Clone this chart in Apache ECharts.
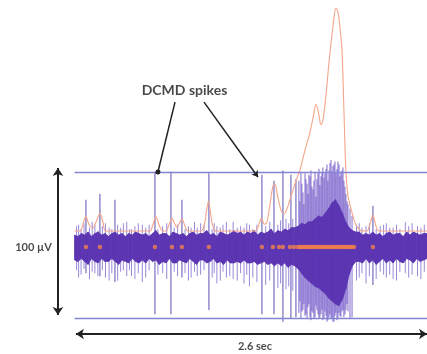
<!DOCTYPE html>
<html>
<head>
<meta charset="utf-8">
<style>
  html, body { margin: 0; padding: 0; background: #fff; }
  #chart { width: 427px; height: 354px; }
</style>
<script src="https://cdn.jsdelivr.net/npm/echarts@6/dist/echarts.min.js"></script>
</head>
<body>
<div id="chart"></div>
<script>
// trace envelope, sampled every 25 ms (µV)
const sampleStep = 0.025;
const bandHi = [
  7, 6, 8, 7, 9, 6, 8, 9, 7, 8,
  6, 8, 9, 7, 8, 6, 8, 7, 9, 8,
  7, 8, 6, 8, 10, 7, 8, 8, 6, 9,
  8, 7, 8, 6, 8, 9, 7, 8, 8, 10,
  7, 8, 6, 9, 8, 7, 8, 10, 8, 9,
  7, 9, 8, 10, 7, 9, 8, 9, 11, 8,
  10, 9, 11, 10, 12,
  12, 13, 15, 14, 16, 16, 18, 20, 19, 22, 25, 29, 31, 27, 22, 16, 12, 10, 9,
  9, 7, 8, 7, 9, 7, 8, 6, 8, 9, 7, 8, 8, 6, 9, 7, 9, 8, 7, 8, 8
];
const bandLo = [
  -10, -11, -9, -11, -13, -9, -11, -12, -9, -11,
  -11, -9, -11, -13, -10, -11, -12, -9, -11, -12,
  -10, -12, -9, -11, -10, -13, -11, -12, -9, -12,
  -12, -10, -11, -12, -9, -11, -13, -10, -10, -12,
  -11, -9, -12, -11, -13, -10, -12, -12, -11, -12,
  -10, -12, -12, -11, -13, -12, -11, -13, -12, -14,
  -12, -14, -12, -15, -13,
  -14, -16, -19, -22, -24, -26, -28, -29, -31, -33, -36, -38, -40, -41, -37, -30, -20, -14, -11,
  -11, -12, -9, -12, -10, -13, -11, -9, -12, -10, -12, -9, -11, -12, -9, -10, -12, -9, -11, -10, -9
];

// visible spike excursions [time s, top µV, bottom µV]
const spikeLines = [
  [0.084, 31, -19], [0.187, 35, -21], [0.298, 31, -25], [0.593, 50, -47],
  [0.711, 50, -47], [0.792, 31, -22], [0.991, 49, -44], [1.382, 48, -47],
  [1.471, 44, -47], [1.537, 51, -52], [1.596, 48, -50], [1.633, 45, -49],
  [2.201, 27, -27]
];
const burstLines = [
  [1.655, 44, -46], [1.662, 30, -38], [1.670, 50, -50], [1.677, 42, -45],
  [1.685, 36, -44], [1.692, 28, -40], [1.700, 49, -48], [1.707, 45, -47],
  [1.715, 42, -50], [1.722, 35, -42], [1.729, 48, -40], [1.737, 47, -49],
  [1.744, 51, -51], [1.751, 40, -45], [1.759, 38, -46], [1.766, 44, -50],
  [1.774, 50, -49], [1.781, 33, -41], [1.788, 45, -44], [1.796, 49, -47],
  [1.803, 52, -50], [1.810, 41, -49], [1.818, 47, -47], [1.825, 50, -44],
  [1.832, 53, -51], [1.840, 46, -50], [1.847, 49, -45], [1.855, 52, -48],
  [1.862, 55, -52], [1.869, 44, -51], [1.877, 51, -49], [1.884, 56, -47],
  [1.892, 58, -50], [1.899, 50, -50], [1.906, 54, -52], [1.914, 55, -52],
  [1.921, 57, -48], [1.928, 49, -46], [1.936, 52, -51], [1.943, 57, -50],
  [1.951, 55, -46], [1.958, 47, -48], [1.965, 50, -49], [1.973, 51, -45],
  [1.980, 53, -44], [1.987, 44, -49], [1.995, 40, -47], [2.002, 35, -44],
  [2.010, 30, -40], [2.017, 28, -45], [2.032, 25, -50], [2.047, 20, -49]
];
const noiseLines = [
  [0.015, 13, -17], [0.030, 14, -22], [0.048, 11, -20], [0.070, 15, -16],
  [0.110, 12, -23], [0.130, 16, -18], [0.150, 14, -19], [0.172, 10, -21],
  [0.205, 13, -17], [0.228, 15, -22], [0.255, 12, -24], [0.275, 11, -19],
  [0.318, 14, -24], [0.340, 12, -18], [0.360, 15, -17], [0.385, 16, -21],
  [0.405, 11, -17], [0.420, 11, -21], [0.445, 13, -23], [0.470, 15, -19],
  [0.500, 14, -25], [0.525, 12, -22], [0.550, 14, -17], [0.615, 11, -20],
  [0.650, 13, -19], [0.680, 15, -23], [0.735, 12, -18], [0.760, 14, -21],
  [0.815, 11, -19], [0.840, 13, -24], [0.860, 12, -22], [0.885, 16, -18],
  [0.905, 12, -21], [0.930, 15, -20], [0.955, 14, -17], [1.015, 11, -22],
  [1.030, 15, -19], [1.050, 13, -26], [1.075, 12, -24], [1.095, 14, -18],
  [1.120, 16, -22], [1.145, 11, -21], [1.170, 16, -23], [1.200, 12, -24],
  [1.225, 13, -19], [1.250, 12, -26], [1.270, 15, -20], [1.290, 14, -28],
  [1.315, 11, -22], [1.345, 14, -25], [1.410, 13, -27], [1.440, 16, -24],
  [1.500, 14, -29], [1.520, 17, -26], [1.560, 18, -30], [1.580, 15, -28],
  [1.610, 18, -31], [2.080, 14, -24], [2.100, 15, -22], [2.120, 12, -19],
  [2.150, 13, -26], [2.175, 15, -21], [2.225, 11, -23], [2.255, 13, -18],
  [2.280, 14, -20], [2.300, 15, -22], [2.325, 12, -20], [2.350, 12, -23],
  [2.375, 14, -24], [2.400, 11, -18], [2.440, 16, -19], [2.465, 13, -22],
  [2.490, 15, -20], [2.530, 13, -21], [2.555, 12, -23], [2.580, 14, -18]
];

// detected spike times (s)
const spikeTimes = [
  0.084, 0.187, 0.593, 0.718, 0.792, 0.991, 1.382, 1.463, 1.508, 1.537, 1.589, 1.618,
  1.648, 1.663, 1.678, 1.692, 1.707, 1.722, 1.736, 1.751, 1.766, 1.781, 1.796, 1.810,
  1.825, 1.840, 1.855, 1.869, 1.884, 1.899, 1.914, 1.928, 1.943, 1.958, 1.973, 1.987,
  2.002, 2.017, 2.032, 2.046, 2.061, 2.201
];
const dotLevel = -1.2;

// firing rate (spikes/s)
const rateTimes = [
  0, 0.040, 0.062, 0.084, 0.106, 0.134, 0.158, 0.187, 0.210, 0.232,
  0.556, 0.575, 0.600, 0.626, 0.652, 0.674, 0.696, 0.718, 0.741, 0.755,
  0.770, 0.792, 0.814, 0.837, 0.932, 0.958, 0.973, 0.988, 1.002, 1.017,
  1.043, 1.331, 1.353, 1.379, 1.401, 1.419, 1.441, 1.463, 1.478, 1.497,
  1.523, 1.545, 1.567, 1.589, 1.611, 1.633, 1.663, 1.685, 1.714, 1.737,
  1.759, 1.781, 1.799, 1.818, 1.832, 1.855, 1.877, 1.899, 1.914, 1.928,
  1.943, 1.958, 1.973, 1.987, 2.002, 2.017, 2.032, 2.054, 2.076, 2.106,
  2.127, 2.157, 2.175, 2.201, 2.223, 2.245, 2.6
];
const rateValues = [
  0, 0, 9, 20, 9, 4, 12, 23, 12, 0,
  0, 7, 19, 7, 0, 0, 8, 17, 9, 5,
  9, 16, 7, 0, 0, 9, 26, 40, 26, 9,
  0, 0, 5, 17, 9, 12, 35, 60, 63, 48,
  28, 23, 30, 42, 55, 67, 82, 98, 118, 133,
  152, 170, 160, 143, 149, 183, 227, 264, 287, 300,
  295, 273, 243, 163, 79, 48, 35, 20, 8, 1,
  0, 0, 7, 21, 7, 0, 0
];

const purple = '#5c35b3';
const textFont = 'Lato, "Open Sans", sans-serif';

const chart = echarts.init(document.getElementById('chart'), null, { renderer: 'canvas' });

function renderBand(params, api) {
  const i = params.dataIndex;
  if (i >= bandHi.length - 1) return null;
  const t0 = api.value(0);
  const t1 = t0 + sampleStep;
  const pts = [
    api.coord([t0, bandHi[i]]),
    api.coord([t1, bandHi[i + 1]]),
    api.coord([t1, bandLo[i + 1]]),
    api.coord([t0, bandLo[i]])
  ];
  return {
    type: 'polygon',
    shape: { points: pts },
    style: { fill: purple, stroke: purple, lineWidth: 0.8 }
  };
}

function lineRenderer(color, width) {
  return function (params, api) {
    const a = api.coord([api.value(0), api.value(1)]);
    const b = api.coord([api.value(0), api.value(2)]);
    return {
      type: 'line',
      shape: { x1: a[0], y1: a[1], x2: b[0], y2: b[1] },
      style: { stroke: color, lineWidth: width }
    };
  };
}

const textLabel = (size) => ({
  show: true,
  position: 'inside',
  formatter: (p) => p.name,
  color: '#1a1a1a',
  fontFamily: textFont,
  fontWeight: 'bold',
  fontSize: size
});

const option = {
  animation: false,
  grid: { left: 0, right: 0, top: 0, bottom: 0 },
  xAxis: { type: 'value', min: -0.55, max: 2.6, show: false },
  yAxis: [
    { type: 'value', min: -74, max: 167, show: false },
    { type: 'value', min: -165.5, max: 310.8, show: false }
  ],
  series: [
    {
      type: 'custom',
      renderItem: lineRenderer('rgba(110,85,200,0.7)', 1),
      data: noiseLines,
      silent: true
    },
    {
      type: 'custom',
      renderItem: lineRenderer('rgba(98,68,192,0.8)', 1),
      data: burstLines,
      silent: true
    },
    {
      type: 'custom',
      renderItem: lineRenderer('#8a82c8', 1.4),
      data: spikeLines,
      silent: true
    },
    {
      type: 'custom',
      renderItem: renderBand,
      data: bandHi.map((h, i) => [i * sampleStep, h, bandLo[i]]),
      silent: true
    },
    {
      type: 'line',
      yAxisIndex: 1,
      data: rateTimes.map((t, i) => [t, rateValues[i]]),
      smooth: 0.35,
      symbol: 'none',
      lineStyle: { color: '#f4a68a', width: 1.1 },
      silent: true
    },
    {
      type: 'scatter',
      data: spikeTimes.map(t => [t, dotLevel]),
      symbolSize: 4.5,
      itemStyle: { color: '#f2814a' },
      silent: true
    },
    {
      type: 'scatter',
      symbolSize: 0,
      silent: true,
      data: [
        { name: 'DCMD spikes', value: [0.811, 105.7], label: textLabel(14) },
        { name: '100 \u00b5V', value: [-0.303, -1.8], label: textLabel(11) },
        { name: '2.6 sec', value: [1.331, -69.2], label: textLabel(11) }
      ],
      markLine: {
        silent: true,
        label: { show: false },
        emphasis: { disabled: true },
        data: [
          [
            { coord: [0, 50], symbol: 'none', lineStyle: { color: '#8484d2', width: 1.3, type: 'solid' } },
            { coord: [2.6, 50], symbol: 'none' }
          ],
          [
            { coord: [0, -50], symbol: 'none', lineStyle: { color: '#8484d2', width: 1.3, type: 'solid' } },
            { coord: [2.6, -50], symbol: 'none' }
          ],
          [
            { coord: [-0.1225, 52.6], symbol: 'arrow', symbolSize: 8, lineStyle: { color: '#222', width: 2, type: 'solid' } },
            { coord: [-0.1225, -47.4], symbol: 'arrow', symbolSize: 8 }
          ],
          [
            { coord: [0.01, -60.4], symbol: 'arrow', symbolSize: 8, lineStyle: { color: '#222', width: 2, type: 'solid' } },
            { coord: [2.6, -60.4], symbol: 'arrow', symbolSize: 8 }
          ],
          [
            { coord: [0.741, 97.5], symbol: 'none', lineStyle: { color: '#222', width: 1.5, type: 'solid' } },
            { coord: [0.615, 49.9], symbol: 'circle', symbolSize: 5 }
          ],
          [
            { coord: [0.955, 97.5], symbol: 'none', lineStyle: { color: '#222', width: 1.5, type: 'solid' } },
            { coord: [1.353, 46.5], symbol: 'arrow', symbolSize: 6 }
          ]
        ]
      }
    }
  ]
};

chart.setOption(option);
</script>
</body>
</html>
